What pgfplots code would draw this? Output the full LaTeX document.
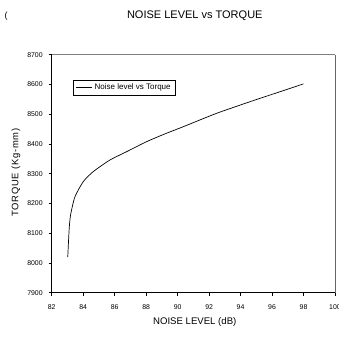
\documentclass[border=0pt]{standalone}
\usepackage{fontspec}
\setmainfont{Liberation Sans}
\usepackage{pgfplots}
\pgfplotsset{compat=1.18}
\begin{document}
\begin{tikzpicture}[x=1pt,y=1pt]
\begin{axis}[
  at={(0,0)}, anchor=south west,
  scale only axis, width=283.3pt, height=238pt,
  xmin=82, xmax=100, ymin=7900, ymax=8700,
  xtick={82,84,...,100}, ytick={7900,8000,...,8700},
  axis lines*=left,
  axis line style={-, black, line width=0.6pt},
  tick align=outside, major tick length=3pt,
  tick style={black, line width=0.5pt},
  /pgf/number format/assume math mode=true,
  /pgf/number format/.cd, 1000 sep={}, /pgfplots/.cd,
  ticklabel style={font=\fontsize{6.9}{8}\selectfont},
  xticklabel style={yshift=-5pt},
  yticklabel style={xshift=-2.5pt},
  xlabel={NOISE LEVEL (dB)},
  ylabel={TORQUE (Kg-mm)},
  xlabel style={font=\fontsize{9.6}{11}\selectfont, at={(0.505,0)}, anchor=center, yshift=-29pt},
  every axis y label/.style={at={(rel axis cs:0,0.505)}, rotate=90, anchor=center, yshift=35.7pt,
    font=\fontsize{9.4}{11}\selectfont\addfontfeature{LetterSpace=8}},
  title={NOISE LEVEL vs TORQUE},
  title style={font=\fontsize{11}{13}\selectfont, at={(0.505,1)}, anchor=base, yshift=30.5pt},
  legend style={at={(0.074,0.894)}, anchor=north west, font=\fontsize{8}{9}\selectfont,
    draw=black, line width=0.5pt, inner xsep=3pt, inner ysep=2pt},
  legend cell align=left,
  legend image code/.code={\draw[line width=0.7pt] (0pt,0pt) -- (16pt,0pt);},
  clip=false,
]
\addplot[black, line width=0.7pt, smooth, tension=0.4] coordinates {
(83.02,8020) (83.08,8085) (83.12,8122) (83.18,8155) (83.27,8180) (83.48,8223)
(84.0,8273) (84.64,8307) (85.7,8346) (86.76,8374) (88.0,8407) (89.2,8434)
(90.36,8458) (92.48,8503) (94.6,8542) (96.7,8579) (98,8602)
};
\addlegendentry{Noise level vs Torque}
\draw[gray, line width=1.2pt] (rel axis cs:0,1) -- (rel axis cs:1,1);
\draw[black!60, line width=0.6pt] (rel axis cs:1,1) -- (rel axis cs:1,0);
\end{axis}
\node[font=\fontsize{9}{10}\selectfont] at (-45.7,276.7) {(};
\pgfresetboundingbox
\useasboundingbox (-51.7,-44.3) rectangle (287.3,292.7);
\end{tikzpicture}
\end{document}
